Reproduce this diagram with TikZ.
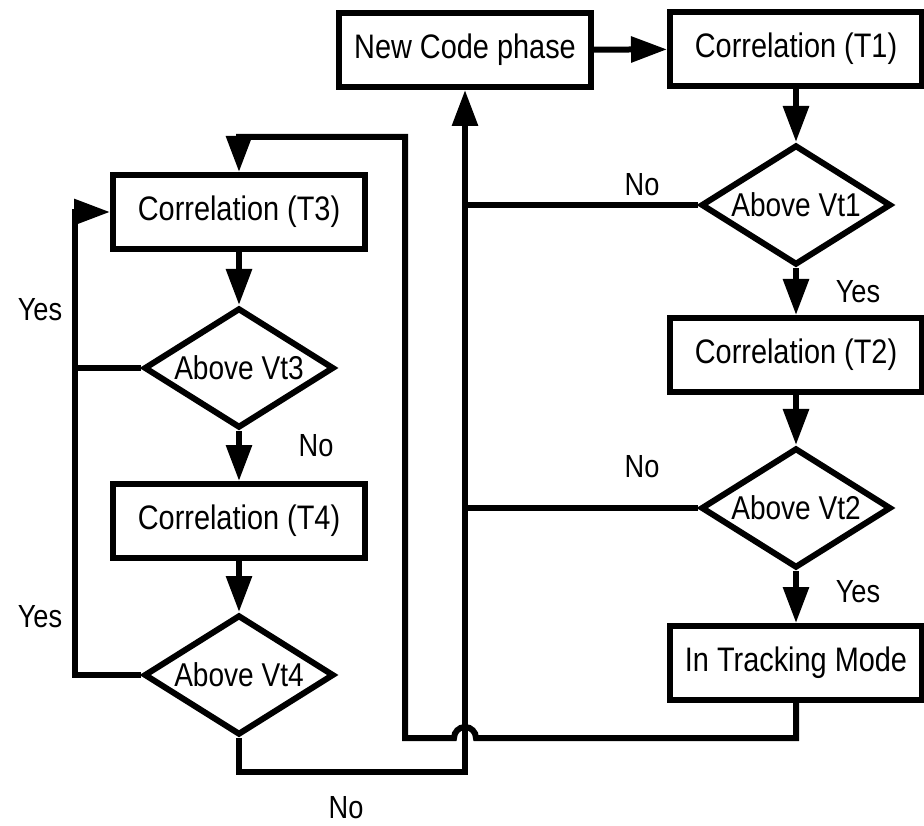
\documentclass[tikz,border=0pt]{standalone}
\usepackage{fontspec}
\setmainfont[FakeStretch=0.85]{Liberation Sans}
\usetikzlibrary{arrows.meta,shapes.geometric}
\begin{document}
\begin{tikzpicture}[x=1pt,y=-1pt,
  line width=6pt,
  font=\fontsize{34}{40}\selectfont,
  box/.style={draw, rectangle, minimum width=252pt, minimum height=74pt, inner sep=0pt},
  decision/.style={draw, diamond, minimum width=190pt, minimum height=120pt, inner sep=0pt, aspect=1.58,
    font=\fontsize{33}{38}\selectfont},
  flow/.style={-{Triangle[length=36pt,width=25pt]}},
  lbl/.style={inner sep=0pt, font=\fontsize{32}{38}\selectfont}]
\useasboundingbox (0,0) rectangle (924,826);

% right column
\node[box] (newcode) at (465,50) {New Code phase};
\node[box] (t1) at (796,49) {Correlation (T1)};
\node[decision] (vt1) at (796,205) {Above Vt1};
\node[box] (t2) at (796,355) {Correlation (T2)};
\node[decision] (vt2) at (796,508) {Above Vt2};
\node[box] (track) at (796,663) {In Tracking Mode};

% left column
\node[box] (t3) at (239,212) {Correlation (T3)};
\node[decision] (vt3) at (239,368) {Above Vt3};
\node[box] (t4) at (239,521) {Correlation (T4)};
\node[decision] (vt4) at (239,675) {Above Vt4};

% junction points
\coordinate (j1) at (465,205);
\coordinate (j2) at (465,508);
\coordinate (b1) at (239,772);
\coordinate (b2) at (465,772);
\coordinate (r1) at (796,738);
\coordinate (hopR) at (476,738);
\coordinate (r2) at (405,738);
\coordinate (r3) at (405,137);
\coordinate (r4) at (239,137);
\coordinate (l1) at (75,368);
\coordinate (l2) at (75,675);
\coordinate (l3) at (75,212);

% main flow
\draw[flow] (newcode) -- (t1);
\draw[flow] (t1) -- (vt1);
\draw[flow] (vt1) -- (t2);
\draw[flow] (t2) -- (vt2);
\draw[flow] (vt2) -- (track);
\draw[flow] (t3) -- (vt3);
\draw[flow] (vt3) -- (t4);
\draw[flow] (t4) -- (vt4);

% "No" branches back to a new code phase
\draw (vt1.west) -- (j1);
\draw (vt2.west) -- (j2);
\draw[flow] (vt4.south) -- (b1) -- (b2) -- (newcode.south);

% tracking mode loops back to T3, hopping over the vertical line
\draw[flow] (track.south) -- (r1) -- (hopR) arc (0:180:11pt) -- (r2) -- (r3) -- (r4) -- (t3.north);

% "Yes" branches back to T3
\draw (vt3.west) -- (l1);
\draw[flow] (vt4.west) -- (l2) -- (l3) -- (t3.west);

% branch labels
\node[lbl] (n1) at (642,185) {No};
\node[lbl] (y1) at (858,292) {Yes};
\node[lbl] (n2) at (642,467) {No};
\node[lbl] (y2) at (858,592) {Yes};
\node[lbl] (y3) at (40,310) {Yes};
\node[lbl] (n3) at (316,446) {No};
\node[lbl] (y4) at (40,617) {Yes};
\node[lbl] (n4) at (346,808) {No};
\end{tikzpicture}
\end{document}
